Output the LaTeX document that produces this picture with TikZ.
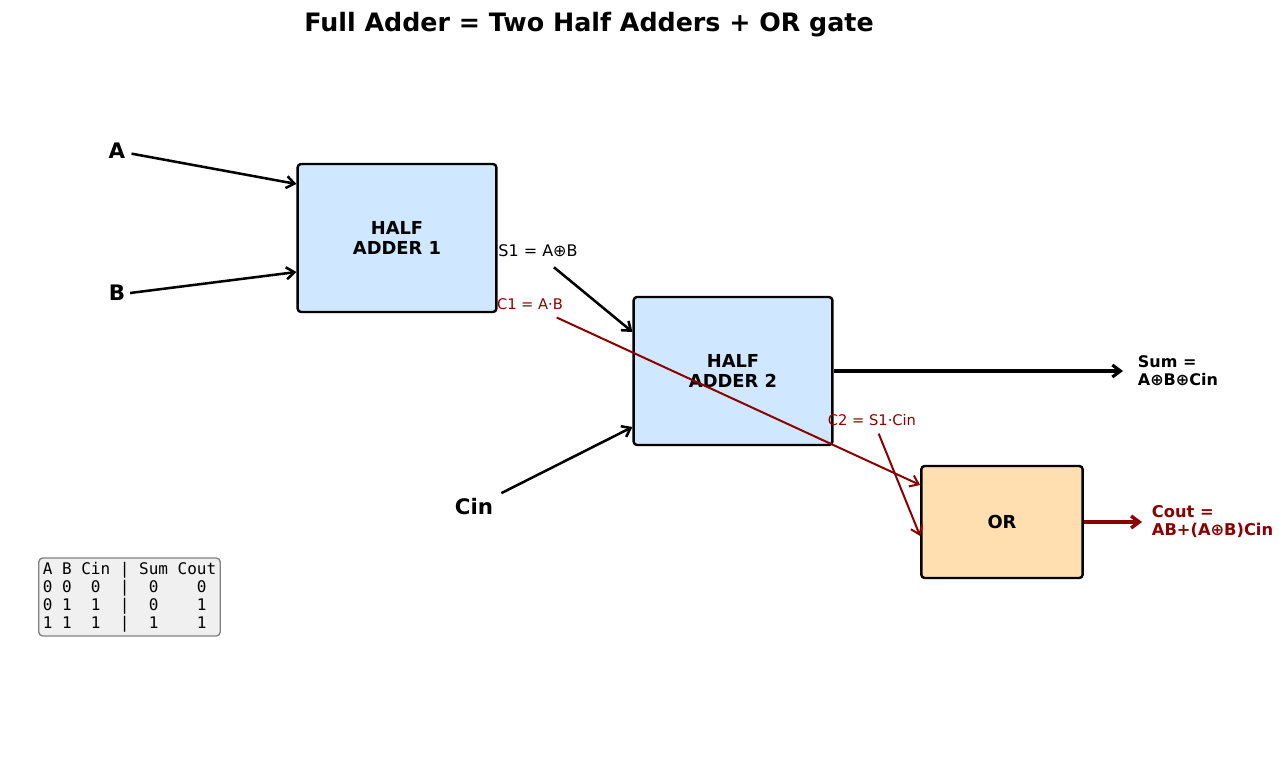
\documentclass[tikz,border=0pt]{standalone}
\usepackage{fontspec}
\setmainfont{DejaVu Sans}
\setmonofont{DejaVu Sans Mono}
\usetikzlibrary{arrows.meta}
\definecolor{halfblue}{RGB}{207,232,255}
\definecolor{orfill}{RGB}{255,223,176}
\definecolor{carryred}{RGB}{139,0,0}
\definecolor{tablegray}{RGB}{240,240,240}
\tikzset{every picture/.style={line width=0.75pt}}

\begin{document}
\begin{tikzpicture}[x=0.75pt,y=0.75pt,yscale=-1,xscale=1,
  blockbox/.style={draw,line width=1.8pt,rounded corners=2.5pt,font=\bfseries\fontsize{13.4}{15.5}\selectfont,align=center},
  inlbl/.style={font=\bfseries\fontsize{16}{18}\selectfont},
  arr/.style={-{Straight Barb[length=6pt,width=9pt]},line width=1.9pt},
  carr/.style={-{Straight Barb[length=6pt,width=9pt]},line width=1.5pt,carryred}]
\useasboundingbox (0,0) rectangle (1285,766);

% Title
\node (title) at (589,25) {\bfseries\fontsize{19}{22}\selectfont Full Adder = Two Half Adders + OR gate};

% Blocks
\node (ha1) [blockbox,fill=halfblue,minimum width=149pt,minimum height=111pt] at (397,238) {HALF\\ADDER 1};
\node (ha2) [blockbox,fill=halfblue,minimum width=149pt,minimum height=111pt] at (733,371) {HALF\\ADDER 2};
\node (orgate) [blockbox,fill=orfill,minimum width=121pt,minimum height=84pt] at (1002,522) {OR};

% Inputs
\node (inA) [inlbl] at (117,151) {A};
\node (inB) [inlbl] at (117,293) {B};
\node (inCin) [inlbl] at (474,507) {Cin};

\draw [arr] ([xshift=1pt,yshift=2pt]inA.east) -- ([yshift=-40.5pt]ha1.west);
\draw [arr] (inB.east) -- ([yshift=25.5pt]ha1.west);
\draw [arr] ([xshift=2.5pt,yshift=-0.5pt]inCin.north east) -- ([yshift=42pt]ha2.west);

% Internal signals
\node (s1lbl) [font=\fontsize{12}{14}\selectfont] at (538,251) {S1 = A⊕B};
\node (c1lbl) [font=\fontsize{11}{13}\selectfont,text=carryred] at (530,304) {C1 = A·B};
\node (c2lbl) [font=\fontsize{11}{13}\selectfont,text=carryred] at (872,420) {C2 = S1·Cin};

\draw [arr] ([xshift=12pt,yshift=4pt]s1lbl.south) -- ([yshift=-29.25pt]ha2.west);
\draw [carr] ([xshift=20pt,yshift=2.25pt]c1lbl.south) -- ([yshift=-27.75pt]orgate.west);
\draw [carr] ([xshift=5pt,yshift=2.25pt]c2lbl.south) -- ([yshift=10.5pt]orgate.west);

% Outputs
\coordinate (sumend) at (1123,371);
\coordinate (coutend) at (1142,522);
\draw [arr,line width=2.4pt] (ha2.east) -- (sumend);
\draw [arr,carryred,line width=2.6pt] (orgate.east) -- (coutend);
\node (sumlbl) [anchor=west,align=left,font=\bfseries\fontsize{12}{13.5}\selectfont] at (1133,371) {Sum =\\A⊕B⊕Cin};
\node (coutlbl) [anchor=west,align=left,text=carryred,font=\bfseries\fontsize{12.2}{13.5}\selectfont] at (1147,522) {Cout =\\AB+(A⊕B)Cin};

% Truth table
\node (truth) [draw=gray,fill=tablegray,rounded corners=3pt,line width=1pt,align=left,inner sep=3pt,font=\ttfamily\fontsize{12}{13.5}\selectfont] at (129.5,597) {A B Cin | Sum Cout\\0 0~~0~~|~~0~~~~0\\0 1~~1~~|~~0~~~~1\\1 1~~1~~|~~1~~~~1};

\end{tikzpicture}
\end{document}
